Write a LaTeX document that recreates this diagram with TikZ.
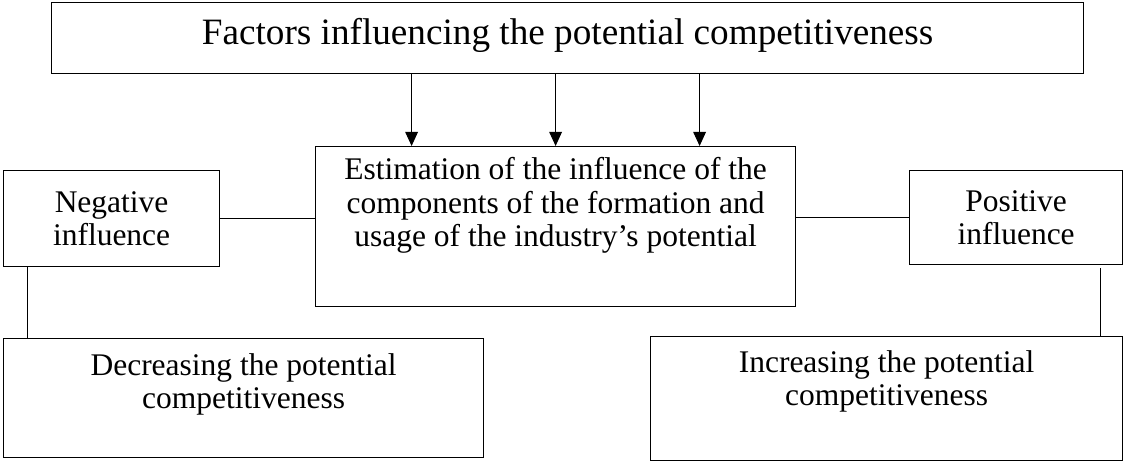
\documentclass[tikz,border=0pt]{standalone}
\usepackage{fontspec}
\setmainfont{Liberation Serif}
\usetikzlibrary{positioning,arrows.meta}
\newcommand{\sidefont}{\fontsize{15.75}{16.75}\selectfont}
\newcommand{\headfont}{\fontsize{18.6}{20}\selectfont}

\begin{document}
\begin{tikzpicture}[x=0.5pt,y=-0.5pt,
    box/.style={draw, line width=0.6pt, inner sep=0pt, anchor=north west},
    txt/.style={inner sep=0pt, align=center, font=\sidefont},
    link/.style={line width=0.5pt},
    feed/.style={line width=0.5pt, -{Triangle[length=7pt,width=6.3pt]}}]
    \useasboundingbox (0,0) rectangle (1132,465);

    % boxes
    \node[box, minimum width=516pt, minimum height=35.5pt, text depth=7pt, font=\headfont] (factors) at (51,2) {Factors influencing the potential competitiveness};
    \node[box, minimum width=240pt, minimum height=80pt]   (estim) at (315,146) {};
    \node[box, minimum width=108pt, minimum height=48pt, align=center, font=\sidefont]   (neg) at (3,170)   {Negative\\influence};
    \node[box, minimum width=106.5pt, minimum height=47pt, align=center, font=\sidefont] (pos) at (909,170) {Positive\\influence};
    \node[box, minimum width=240pt, minimum height=59.5pt] (decr) at (3,338)   {};
    \node[box, minimum width=236pt, minimum height=62pt]   (incr) at (650,336) {};

    % texts, hanging from the top of their boxes (base = last line)
    \node[txt, anchor=base] (estimtxt) at ([shift={(0,101)}]estim.north) {Estimation of the influence of the\\components of the formation and\\usage of the industry’s potential};
    \node[txt, anchor=base] (decrtxt)  at ([shift={(0,70.5)}]decr.north) {Decreasing the potential\\competitiveness};
    \node[txt, anchor=base] (incrtxt)  at ([shift={(0,69.5)}]incr.north) {Increasing the potential\\competitiveness};

    % connectors
    \foreach \dx in {-78,-6,66}
        \draw[feed] ([xshift=\dx pt]factors.south) -- ([xshift=\dx pt]factors.south |- estim.north);
    \draw[link] (neg.east) -- (neg.east -| estim.west);
    \draw[link] (pos.west) -- (pos.west -| estim.east);
    \draw[link] ([xshift=12pt]neg.south west) -- ([xshift=12pt]neg.south west |- decr.north);
    \draw[link] ([shift={(-23,3)}]pos.south east) -- ([xshift=-11.5pt]pos.south east |- incr.north);
\end{tikzpicture}
\end{document}
